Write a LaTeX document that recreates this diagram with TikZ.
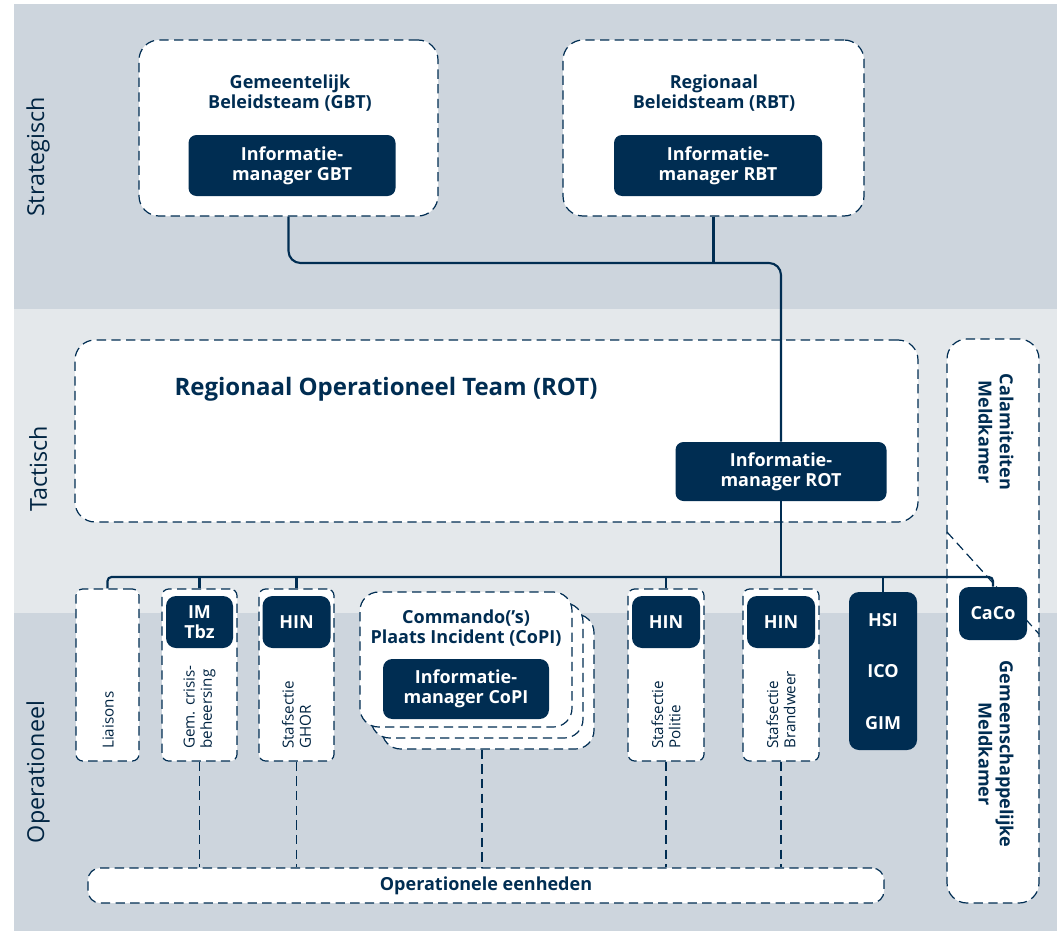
\documentclass[tikz,border=0pt]{standalone}
\usepackage{fontspec}
\setmainfont{Open Sans}
\definecolor{navy}{HTML}{002D52}
\definecolor{bandA}{HTML}{CDD5DD}
\definecolor{bandB}{HTML}{E4E8EB}
\tikzset{
  sz/.style 2 args={minimum width=#1*0.75pt, minimum height=#2*0.75pt},
  dbox/.style={draw=navy, fill=white, dash pattern=on 7pt off 4pt, line width=0.9pt, rounded corners=#1, inner sep=0pt},
  dbox/.default=15pt,
  nbox/.style={fill=navy, text=white, rounded corners=#1, inner sep=0pt, font=\bfseries\fontsize{13.5}{15}\selectfont, align=center},
  nbox/.default=7pt,
  ttl/.style={text=navy, font=\bfseries\fontsize{13.5}{15}\selectfont, align=center, inner sep=0pt},
  bandlbl/.style={text=navy!80!black, font=\fontsize{17.5}{20}\selectfont, rotate=90, inner sep=0pt},
  vlbl/.style={text=navy!80!black, font=\fontsize{11.4}{13}\selectfont, rotate=90, anchor=west, align=left, inner sep=0pt},
  mlbl/.style={text=navy, font=\bfseries\fontsize{13.5}{16}\selectfont, rotate=-90, align=center, inner sep=0pt},
  conn/.style={draw=navy, line width=1.6pt},
  dline/.style={draw=navy, line width=0.9pt, dash pattern=on 7pt off 4pt},
}
\begin{document}
\begin{tikzpicture}[x=0.75pt,y=-0.75pt]
\useasboundingbox (0,0) rectangle (1057,931);
% bands
\fill[white] (0,0) rectangle (1057,931);
\fill[bandA] (14,4) rectangle (1057,309);
\fill[bandB] (14,309) rectangle (1057,613);
\fill[bandA] (14,613) rectangle (1057,931);
\node[bandlbl] (lstr) at (38,157) {Strategisch};
\node[bandlbl] (ltac) at (38,469) {Tactisch};
\node[bandlbl] (lop) at (38,772) {Operationeel};
\coordinate (top) at (0,263);
\coordinate (bus) at (0,577);
% strategic
\node[dbox, sz={299}{176}] (gbt) at (288.5,128) {};
\node[ttl] (gbtt) at (290,93) {Gemeentelijk\\Beleidsteam (GBT)};
\node[nbox=6pt, sz={207}{61}] (imgbt) at (292,165.5) {Informatie-\\manager GBT};
\node[dbox, sz={301}{176}] (rbt) at (713.5,128) {};
\node[ttl] (rbtt) at (714,93) {Regionaal\\Beleidsteam (RBT)};
\node[nbox=6pt, sz={208}{61}] (imrbt) at (718,165.5) {Informatie-\\manager RBT};
% tactical
\node[dbox, sz={843}{182}] (rot) at (496.5,431) {};
\node[ttl, font=\bfseries\fontsize{18}{20}\selectfont] (rott) at (386,389) {Regionaal Operationeel Team (ROT)};
% meldkamer
\node[dbox, sz={92}{564}] (mk) at (993,621) {};
\coordinate (d1) at (947,532);
\coordinate (d2) at (1039,634);
\draw[dline] (d1) -- (d2);
\node[mlbl] (cmk) at (996,432) {Calamiteiten\\Meldkamer};
\node[mlbl] (gmk) at (996,754) {Gemeenschappelijke\\Meldkamer};
% operational boxes
\node[dbox=5pt, sz={63}{172}] (liai) at (107.5,675) {};
\node[vlbl] at (108,749) {Liaisons};
\node[dbox=5pt, sz={75}{172}] (gem) at (199.5,675) {};
\node[vlbl] at (199.5,749) {Gem. crisis-\\beheersing};
\node[dbox=5pt, sz={75}{172}] (ghor) at (296.5,675) {};
\node[vlbl] at (296.5,749) {Stafsectie\\GHOR};
\node[dbox=5pt, sz={76}{172}] (pol) at (666,675) {};
\node[vlbl] at (666,749) {Stafsectie\\Politie};
\node[dbox=5pt, sz={76}{172}] (brw) at (781,675) {};
\node[vlbl] at (781,749) {Stafsectie\\Brandweer};
% CoPI stack
\node[dbox=14pt, sz={212}{135}] (copi3) at (488,681.5) {};
\node[dbox=14pt, sz={212}{135}] (copi2) at (477,670.5) {};
\node[dbox=14pt, sz={212}{135}] (copi) at (466,659.5) {};
\node[ttl] (copit) at (466,628.5) {Commando('s)\\Plaats Incident (CoPI)};
\node[nbox=7pt, sz={166}{60}] (imcopi) at (466,689) {Informatie-\\manager CoPI};
% eenheden
\node[dbox=9pt, sz={796}{35}, ttl] (eenh) at (486,885.5) {Operationele eenheden};
% dashed drops
\draw[dline] (gem.south) -- (gem.south |- eenh.north);
\draw[dline] (ghor.south) -- (ghor.south |- eenh.north);
\draw[dline] ([xshift=-4.5pt]copi3.south) -- ([xshift=-4.5pt]copi3.south |- eenh.north);
\draw[dline] (pol.south) -- (pol.south |- eenh.north);
\draw[dline] (brw.south) -- (brw.south |- eenh.north);
% navy boxes
\node[nbox=6pt, sz={211}{59}] (imrot) at (781,471.5) {Informatie-\\manager ROT};
\node[nbox=7.5pt, sz={67}{52}] (imtbz) at (199.5,622) {IM\\Tbz};
\node[nbox=7.5pt, sz={68}{52}] (hin1) at (296.5,622) {HIN};
\node[nbox=7.5pt, sz={68}{52}] (hin2) at (666,622) {HIN};
\node[nbox=7.5pt, sz={68}{52}] (hin3) at (781,622) {HIN};
\node[nbox=7.5pt, sz={68}{158}] (hsi) at (883,671) {};
\node[ttl, text=white] at (883,620) {HSI};
\node[ttl, text=white] at (883,671) {ICO};
\node[ttl, text=white] at (883,723) {GIM};
\node[nbox=7.5pt, sz={68}{53}] (caco) at (993,613.5) {CaCo};
% connectors
\draw[conn, rounded corners=9pt] (gbt.south) -- (gbt.south |- top) -- (imrot.north |- top) -- (imrot.north);
\draw[conn] (rbt.south) -- (rbt.south |- top);
\draw[conn] (imrot.south) -- (imrot.south |- bus);
\draw[conn, rounded corners=3pt] (liai.north) -- (liai.north |- bus) -- (caco.north |- bus) -- (caco.north);
\draw[conn] (gem.north) -- (gem.north |- bus);
\draw[conn] (ghor.north) -- (ghor.north |- bus);
\draw[conn] (pol.north) -- (pol.north |- bus);
\draw[conn] (hsi.north) -- (hsi.north |- bus);
\end{tikzpicture}
\end{document}
